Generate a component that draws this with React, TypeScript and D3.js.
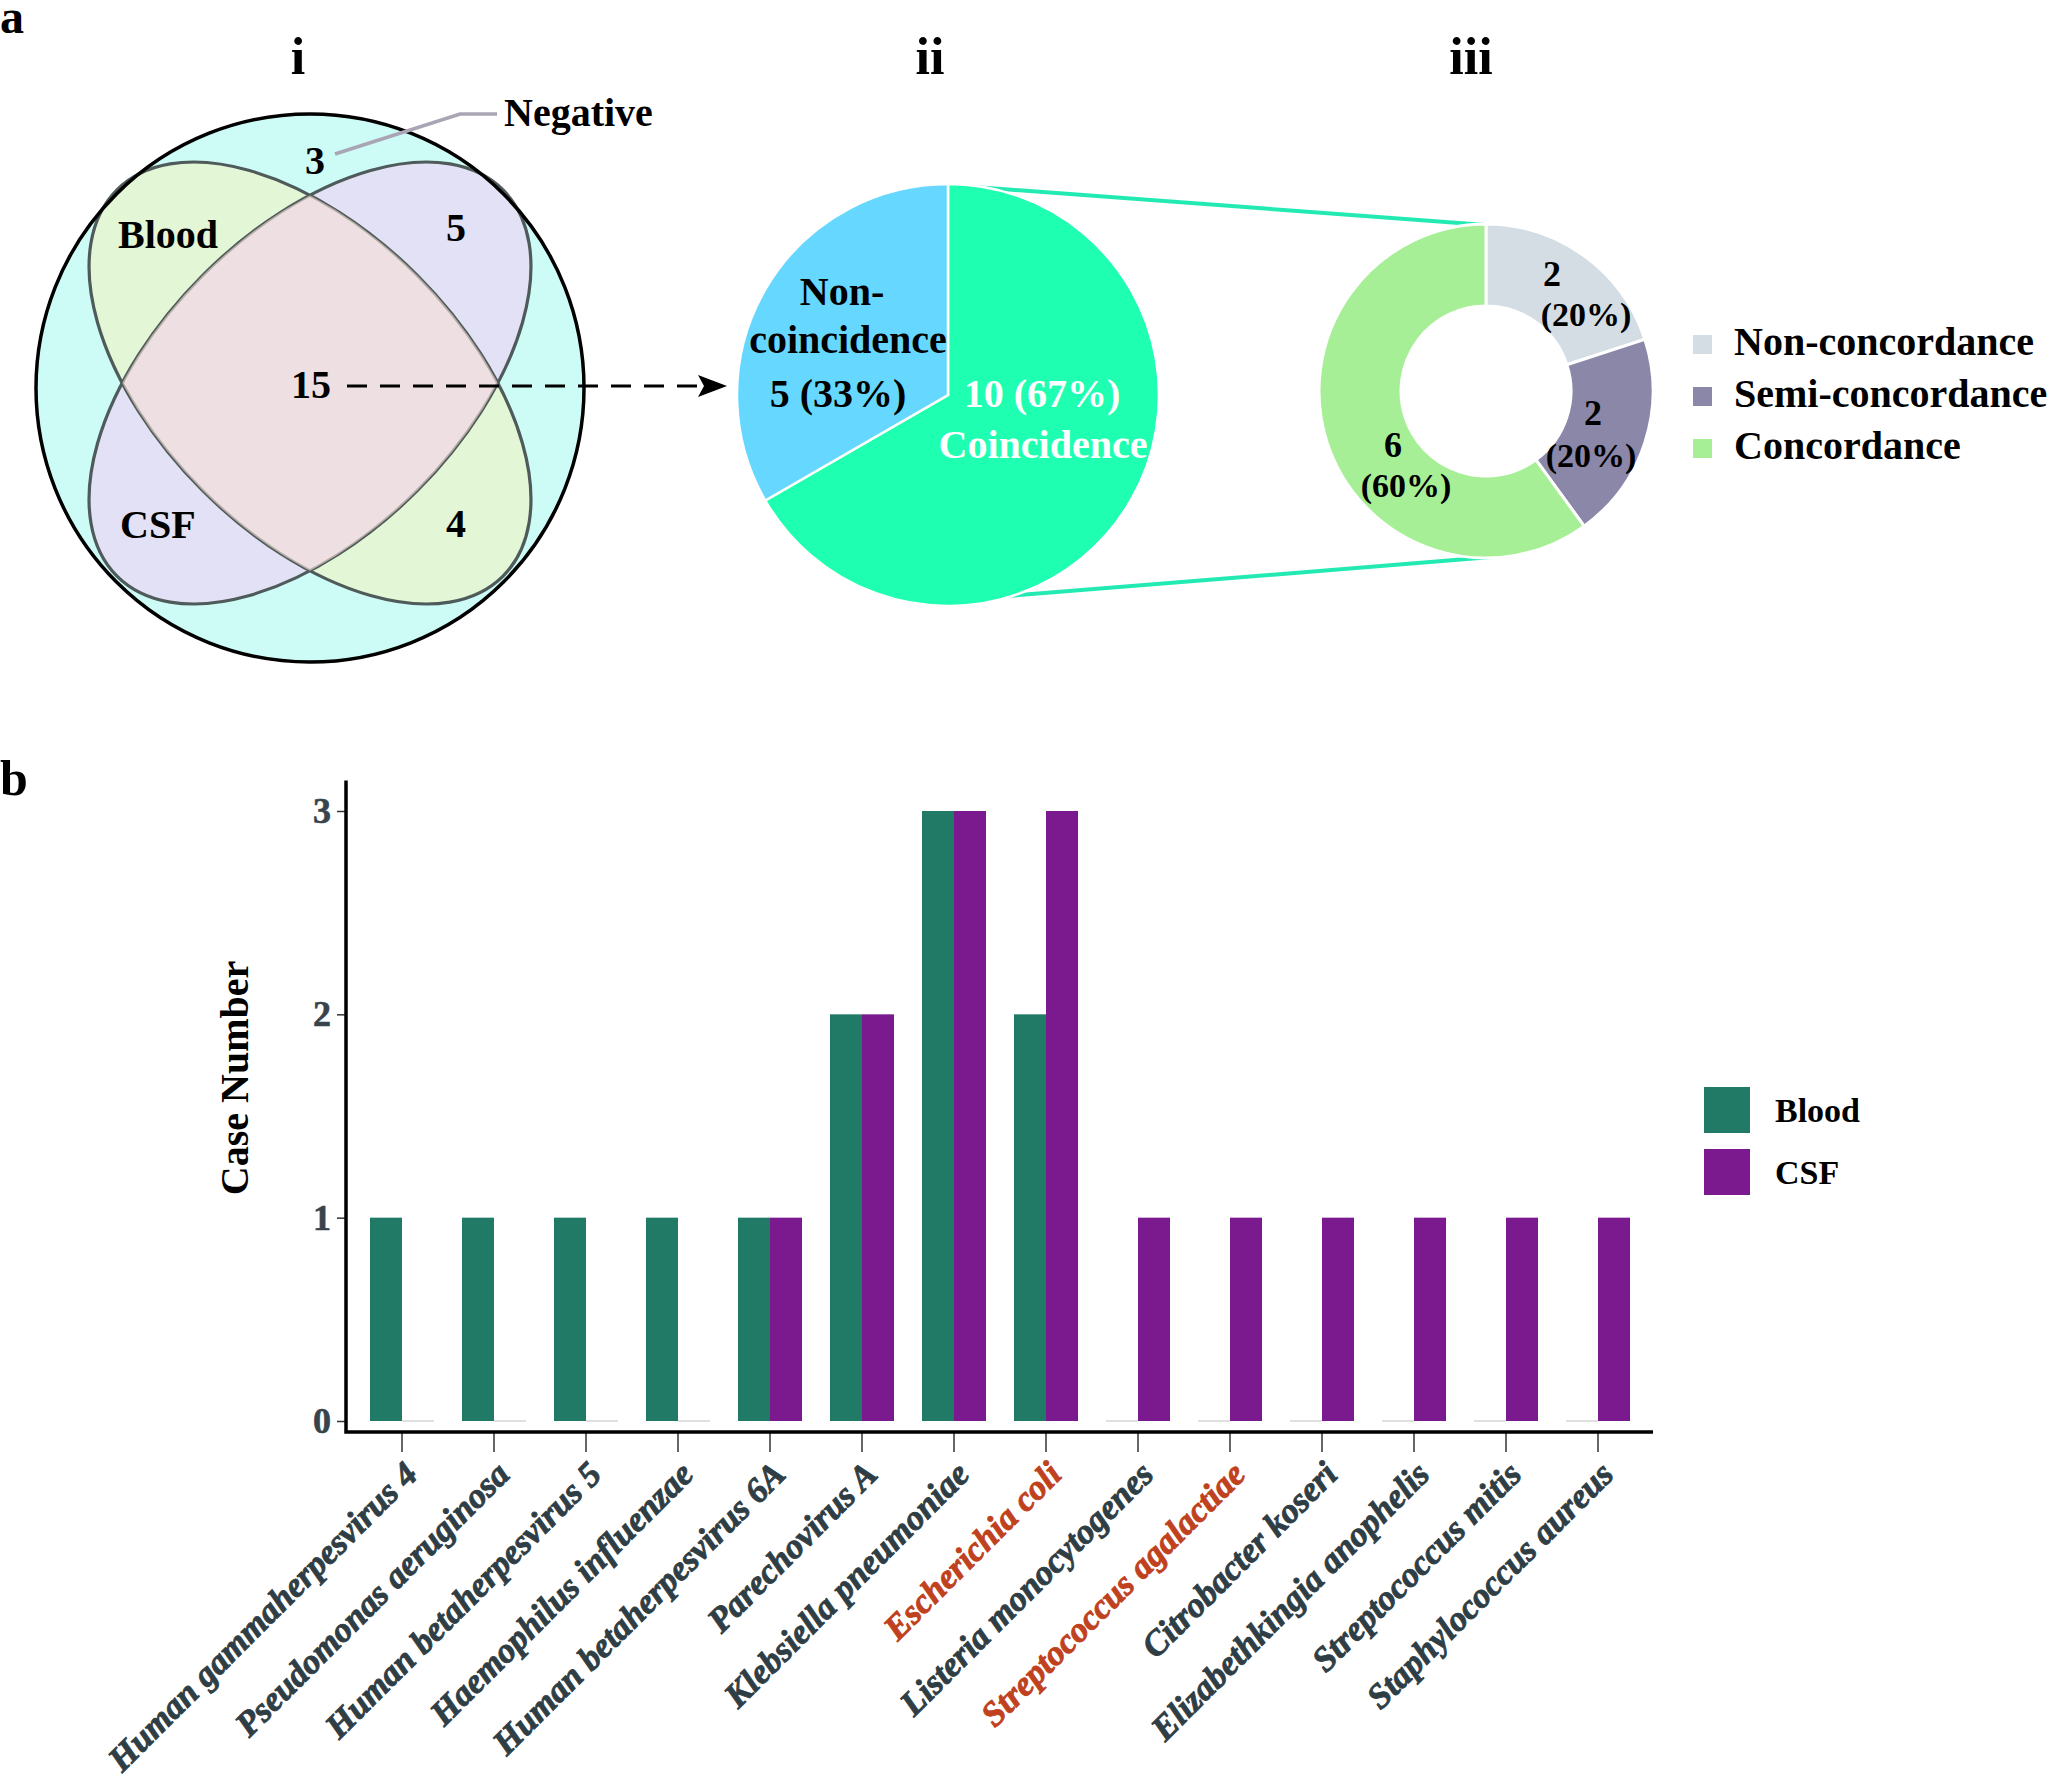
import React, { useEffect, useRef } from 'react';
import * as d3 from 'd3';

const FONT = "'Liberation Serif', 'Times New Roman', Times, serif";

// panel a-i: Venn diagram counts
const vennSets = ['Blood', 'CSF'];
const vennRegions = ['Negative', 'CSF only', 'Blood & CSF', 'Blood only'];
const vennCounts = [3, 5, 15, 4];

// panel a-ii: pie
const pieLabels = ['Coincidence', 'Non-coincidence'];
const pieValues = [10, 5];
const pieColors = ['#1fffb1', '#66d8ff'];

// panel a-iii: donut
const donutLabels = ['Non-concordance', 'Semi-concordance', 'Concordance'];
const donutValues = [2, 2, 6];
const donutColors = ['#d3dde3', '#8b87a8', '#a7ef96'];

const panelTitles = ['i', 'ii', 'iii'];

// panel b: bar chart
const pathogens = [
  'Human gammaherpesvirus 4',
  'Pseudomonas aeruginosa',
  'Human betaherpesvirus 5',
  'Haemophilus influenzae',
  'Human betaherpesvirus 6A',
  'Parechovirus A',
  'Klebsiella pneumoniae',
  'Escherichia coli',
  'Listeria monocytogenes',
  'Streptococcus agalactiae',
  'Citrobacter koseri',
  'Elizabethkingia anophelis',
  'Streptococcus mitis',
  'Staphylococcus aureus',
];
const bloodCases = [1, 1, 1, 1, 1, 2, 3, 2, 0, 0, 0, 0, 0, 0];
const csfCases = [0, 0, 0, 0, 1, 2, 3, 3, 1, 1, 1, 1, 1, 1];
const highlighted = ['Escherichia coli', 'Streptococcus agalactiae'];
const specimens = ['Blood', 'CSF'];
const specimenColors = ['#207a65', '#7b1a8e'];
const caseTicks = [0, 1, 2, 3];

const polar = (cx: number, cy: number, r: number, a: number) => [
  cx + r * Math.sin(a),
  cy - r * Math.cos(a),
];

export default function App() {
  const svgRef = useRef<SVGSVGElement>(null);

  useEffect(() => {
    if (!svgRef.current) return;
    document.body.style.margin = '0';

    const svg = d3.select(svgRef.current);
    svg.selectAll('*').remove();
    const defs = svg.append('defs');

    const bold = (sel: any, size: number) =>
      sel
        .attr('font-family', FONT)
        .attr('font-weight', 'bold')
        .attr('font-size', size);

    // panel letters and titles
    bold(svg.append('text').attr('x', 0).attr('y', 33).text('a'), 48);
    bold(svg.append('text').attr('x', 0).attr('y', 795).text('b'), 50);
    const titleX = [298, 930, 1471];
    panelTitles.forEach((t, i) => {
      bold(
        svg.append('text').attr('x', titleX[i]).attr('y', 74).attr('text-anchor', 'middle').text(t),
        52
      );
    });

    // ---------- i: Venn ----------
    const venn = svg.append('g');
    const circ = { cx: 310, cy: 388, r: 274 };
    const ell = { cx: 310, cy: 383, rx: 273, ry: 152 };
    venn
      .append('circle')
      .attr('cx', circ.cx)
      .attr('cy', circ.cy)
      .attr('r', circ.r)
      .attr('fill', '#cdfcf7');

    const ellipse = (g: any, angle: number) =>
      g
        .append('ellipse')
        .attr('cx', ell.cx)
        .attr('cy', ell.cy)
        .attr('rx', ell.rx)
        .attr('ry', ell.ry)
        .attr('transform', `rotate(${angle} ${ell.cx} ${ell.cy})`);

    ellipse(defs.append('clipPath').attr('id', 'csf-clip'), -45);

    ellipse(venn, 45).attr('fill', '#e3f6d5');
    ellipse(venn, -45).attr('fill', '#e2e1f6');
    ellipse(venn, 45).attr('fill', 'none').attr('stroke', '#4f5a5a').attr('stroke-width', 3.2);
    ellipse(venn, -45).attr('fill', 'none').attr('stroke', '#4f5a5a').attr('stroke-width', 3.2);
    // overlap region drawn on top, softening the strokes inside it
    ellipse(venn.append('g').attr('clip-path', 'url(#csf-clip)'), 45)
      .attr('fill', '#f6ded5')
      .attr('opacity', 0.62);

    venn
      .append('circle')
      .attr('cx', circ.cx)
      .attr('cy', circ.cy)
      .attr('r', circ.r)
      .attr('fill', 'none')
      .attr('stroke', '#000')
      .attr('stroke-width', 3.5);

    // negative leader
    venn
      .append('polyline')
      .attr('points', '335,154 460,114 497,114')
      .attr('fill', 'none')
      .attr('stroke', '#aaa5b5')
      .attr('stroke-width', 3.5);

    bold(venn.append('text').attr('x', 504).attr('y', 126).text(vennRegions[0]), 40);
    const vennNumPos = [
      [315, 174],
      [456, 241],
      [311, 398],
      [456, 537],
    ];
    vennCounts.forEach((c, i) => {
      bold(
        venn
          .append('text')
          .attr('x', vennNumPos[i][0])
          .attr('y', vennNumPos[i][1])
          .attr('text-anchor', 'middle')
          .text(c),
        40
      );
    });
    bold(venn.append('text').attr('x', 118).attr('y', 248).text(vennSets[0]), 40);
    bold(venn.append('text').attr('x', 120).attr('y', 538).text(vennSets[1]), 40);

    // dashed arrow to pie
    venn
      .append('line')
      .attr('x1', 347)
      .attr('x2', 702)
      .attr('y1', 386)
      .attr('y2', 386)
      .attr('stroke', '#000')
      .attr('stroke-width', 3)
      .attr('stroke-dasharray', '20 13');
    venn.append('path').attr('d', 'M727,386 L698,375 L704,386 L698,397 Z').attr('fill', '#000');

    // ---------- ii: pie ----------
    const pc = { x: 948, y: 395, r: 211 };
    const dc = { x: 1486, y: 391, r0: 85, r1: 167 };

    // connectors between pie and donut
    const conn = [
      [0, 0],
      [(163 * Math.PI) / 180, (176 * Math.PI) / 180],
    ];
    conn.forEach(([a, b]) => {
      const p1 = polar(pc.x, pc.y, pc.r - 1, a);
      const p2 = polar(dc.x, dc.y, dc.r1 - 1, b);
      svg
        .append('line')
        .attr('x1', p1[0])
        .attr('y1', p1[1])
        .attr('x2', p2[0])
        .attr('y2', p2[1])
        .attr('stroke', '#22eab2')
        .attr('stroke-width', 4);
    });

    const pieArcs = d3.pie<number>().sort(null)(pieValues);
    const pieArc = d3.arc<any>().innerRadius(0).outerRadius(pc.r);
    const pieG = svg.append('g').attr('transform', `translate(${pc.x},${pc.y})`);
    pieG
      .selectAll('path')
      .data(pieArcs)
      .enter()
      .append('path')
      .attr('d', pieArc)
      .attr('fill', (d, i) => pieColors[i])
      .attr('stroke', '#fff')
      .attr('stroke-width', 2.5);

    const pieTotal = d3.sum(pieValues);
    const pct = (v: number, t: number) => `${v} (${Math.round((v / t) * 100)}%)`;
    const nonLines = [
      ['Non-', -106, -90],
      ['coincidence', -100, -42],
      [pct(pieValues[1], pieTotal), -110, 12],
    ];
    nonLines.forEach(([t, dx, dy]) => {
      bold(
        pieG.append('text').attr('x', dx).attr('y', dy).attr('text-anchor', 'middle').text(t as string),
        40
      );
    });
    const coLines = [
      [pct(pieValues[0], pieTotal), 94, 12],
      [pieLabels[0], 95, 63],
    ];
    coLines.forEach(([t, dx, dy]) => {
      bold(
        pieG
          .append('text')
          .attr('x', dx)
          .attr('y', dy)
          .attr('text-anchor', 'middle')
          .attr('fill', '#fff')
          .text(t as string),
        40
      );
    });

    // ---------- iii: donut ----------
    const donutArcs = d3.pie<number>().sort(null)(donutValues);
    const donutArc = d3.arc<any>().innerRadius(dc.r0).outerRadius(dc.r1);
    const donutG = svg.append('g').attr('transform', `translate(${dc.x},${dc.y})`);
    donutG
      .selectAll('path')
      .data(donutArcs)
      .enter()
      .append('path')
      .attr('d', donutArc)
      .attr('fill', (d, i) => donutColors[i])
      .attr('stroke', '#fff')
      .attr('stroke-width', 3);

    const donutTotal = d3.sum(donutValues);
    const donutLabelPos = [
      [66, -105, 100, -65],
      [107, 34, 105, 76],
      [-93, 66, -80, 106],
    ];
    donutValues.forEach((v, i) => {
      const [x1, y1, x2, y2] = donutLabelPos[i];
      bold(donutG.append('text').attr('x', x1).attr('y', y1).attr('text-anchor', 'middle').text(v), 36);
      bold(
        donutG
          .append('text')
          .attr('x', x2)
          .attr('y', y2)
          .attr('text-anchor', 'middle')
          .text(`(${Math.round((v / donutTotal) * 100)}%)`),
        34
      );
    });

    // donut legend
    donutLabels.forEach((l, i) => {
      const y0 = 335 + i * 52;
      svg.append('rect').attr('x', 1693).attr('y', y0).attr('width', 19).attr('height', 19).attr('fill', donutColors[i]);
      bold(svg.append('text').attr('x', 1734).attr('y', y0 + 20).text(l), 40);
    });

    // ---------- b: bar chart ----------
    const x = d3.scaleBand<string>().domain(pathogens).range([356, 1644]).paddingInner(0.304).paddingOuter(0.152);
    const xs = d3.scaleBand<string>().domain(specimens).range([0, x.bandwidth()]);
    const y = d3.scaleLinear().domain([0, 3]).range([1421, 811]);
    const axisY = 1432;
    const axisTop = y(3.15);
    const axisLeftX = 346;
    const axisRightX = 1653;

    const bars = svg.append('g');
    const series = [bloodCases, csfCases];
    series.forEach((vals, si) => {
      bars
        .selectAll(`.bar-${si}`)
        .data(pathogens)
        .enter()
        .append('rect')
        .attr('class', `bar-${si}`)
        .attr('x', (d) => (x(d) as number) + (xs(specimens[si]) as number))
        .attr('width', xs.bandwidth())
        .attr('y', (d, i) => (vals[i] > 0 ? y(vals[i]) : y(0) - 1))
        .attr('height', (d, i) => (vals[i] > 0 ? y(0) - y(vals[i]) : 2))
        .attr('fill', (d, i) => (vals[i] > 0 ? specimenColors[si] : '#e0e0e0'));
    });

    // y axis
    const yAxis = svg
      .append('g')
      .attr('transform', `translate(${axisLeftX},0)`)
      .call(d3.axisLeft(y).tickValues(caseTicks).tickSize(9).tickPadding(6).tickFormat(d3.format('d')));
    yAxis.select('.domain').remove();
    yAxis.selectAll('line').attr('stroke', '#333').attr('stroke-width', 1.5);
    yAxis
      .selectAll('text')
      .attr('font-family', FONT)
      .attr('font-weight', 'bold')
      .attr('font-size', 36)
      .attr('fill', '#37444c')
      .attr('stroke', '#37444c')
      .attr('stroke-width', 0.6);

    // x axis
    const xAxis = svg
      .append('g')
      .attr('transform', `translate(0,${axisY})`)
      .call(d3.axisBottom(x).tickSize(20).tickFormat(() => ''));
    xAxis.select('.domain').remove();
    xAxis.selectAll('line').attr('stroke', '#333').attr('stroke-width', 1.5);

    svg
      .append('g')
      .selectAll('text')
      .data(pathogens)
      .enter()
      .append('text')
      .attr('transform', (d) => `translate(${(x(d) as number) + x.bandwidth() / 2},1459) rotate(-45)`)
      .attr('text-anchor', 'end')
      .attr('dy', '0.7em')
      .attr('font-family', FONT)
      .attr('font-weight', 'bold')
      .attr('font-style', 'italic')
      .attr('font-size', 35)
      .attr('fill', (d) => (highlighted.includes(d) ? '#c0411d' : '#2f3e45'))
      .attr('stroke', (d) => (highlighted.includes(d) ? '#c0411d' : '#2f3e45'))
      .attr('stroke-width', 0.9)
      .text((d) => d);

    // axis lines
    svg
      .append('path')
      .attr('d', `M${axisLeftX},${axisTop} V${axisY} H${axisRightX}`)
      .attr('fill', 'none')
      .attr('stroke', '#000')
      .attr('stroke-width', 3.5);

    // y label
    bold(
      svg
        .append('text')
        .attr('transform', 'translate(248,1078) rotate(-90)')
        .attr('text-anchor', 'middle')
        .text('Case Number'),
      40
    );

    // bar legend
    specimens.forEach((s, i) => {
      const y0 = 1087 + i * 62;
      svg.append('rect').attr('x', 1704).attr('y', y0).attr('width', 46).attr('height', 46).attr('fill', specimenColors[i]);
      bold(svg.append('text').attr('x', 1775).attr('y', y0 + 35).text(s), 34);
    });
  }, []);

  return (
    <svg
      ref={svgRef}
      width={2048}
      height={1779}
      style={{ display: 'block', background: '#fff' }}
    />
  );
}
